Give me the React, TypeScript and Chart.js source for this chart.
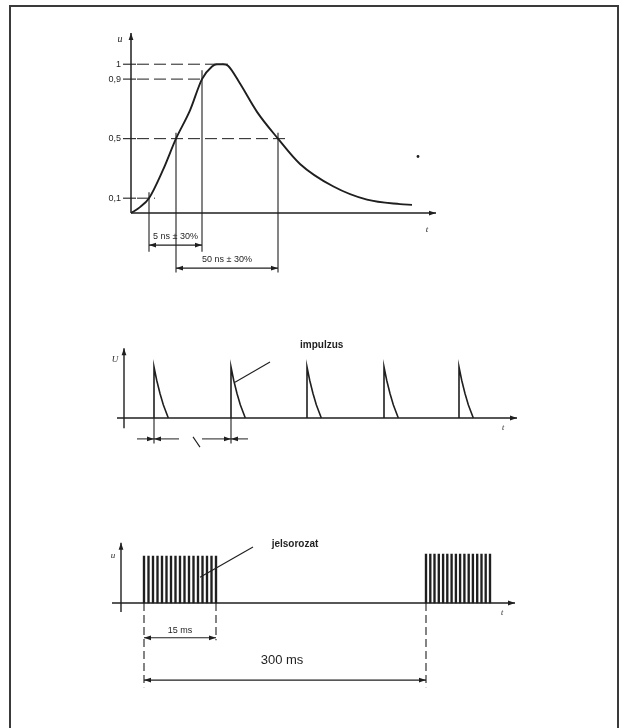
import React, { useEffect, useRef } from 'react';
import { Chart, registerables } from 'chart.js';

Chart.register(...registerables);

const INK = '#1f1f1f';

// ---------------- Panel 1: single pulse shape ----------------
const shapeT = [0, 0.9, 1.8, 3.2, 4.5, 5.9, 7.1, 8.1, 8.6, 9.2, 9.7, 10.9, 12.6, 14.7, 16.9, 20.2, 23.6, 26.9, 28.1];
const shapeU = [0, 0.04, 0.1, 0.29, 0.5, 0.69, 0.9, 0.985, 1, 1, 0.99, 0.87, 0.68, 0.5, 0.33, 0.18, 0.09, 0.06, 0.055];
const levelTicks = [0.1, 0.5, 0.9, 1];
const levelLabels = ['0,1', '0,5', '0,9', '1'];
const levelDashEnd = [2.4, 15.9, 7.1, 9.7];
const crossX = [1.8, 4.5, 7.1, 14.7];
const crossTop = [0.14, 0.54, 0.96, 0.54];
const crossBottom = [-0.26, -0.4, -0.26, -0.4];
const spanLabels = ['5 ns \u00b1 30%', '50 ns \u00b1 30%'];
const spanFrom = [1.8, 4.5];
const spanTo = [7.1, 14.7];
const spanLevel = [-0.215, -0.37];
const strayDot = [{ x: 28.7, y: 0.38 }];

// ---------------- Panel 2: impulse train ----------------
const impulseStarts = [3.0, 10.7, 18.3, 26.0, 33.5];
const impulseDx = [0, 0, 0.27, 0.6, 0.93, 1.43];
const impulseU = [0, 1, 0.74, 0.48, 0.26, 0];
const impulseLabel = 'impulzus';

// ---------------- Panel 3: bursts ----------------
const burst1X = [2.3, 2.75, 3.2, 3.65, 4.1, 4.55, 5.0, 5.45, 5.9, 6.35, 6.8, 7.25, 7.7, 8.15, 8.6, 9.05, 9.5];
const burst2X = [30.5, 30.93, 31.35, 31.78, 32.21, 32.63, 33.06, 33.49, 33.91, 34.34, 34.77, 35.19, 35.62, 36.05, 36.47, 36.9];
const burst1U = 1.0;
const burst2U = 1.04;
const burstLabel = 'jelsorozat';
const burstSpanLabels = ['15 ms', '300 ms'];

type C = CanvasRenderingContext2D;

function seg(ctx: C, x1: number, y1: number, x2: number, y2: number, w = 1.3, dash: number[] = []) {
  ctx.save();
  ctx.beginPath();
  ctx.setLineDash(dash);
  ctx.lineWidth = w;
  ctx.strokeStyle = INK;
  ctx.moveTo(x1, y1);
  ctx.lineTo(x2, y2);
  ctx.stroke();
  ctx.restore();
}

function head(ctx: C, xt: number, yt: number, xf: number, yf: number, len = 7, half = 2.4) {
  const a = Math.atan2(yt - yf, xt - xf);
  const c = Math.cos(a), s = Math.sin(a);
  ctx.save();
  ctx.fillStyle = INK;
  ctx.beginPath();
  ctx.moveTo(xt, yt);
  ctx.lineTo(xt - len * c + half * s, yt - len * s - half * c);
  ctx.lineTo(xt - len * c - half * s, yt - len * s + half * c);
  ctx.closePath();
  ctx.fill();
  ctx.restore();
}

function arrowLine(ctx: C, x1: number, y1: number, x2: number, y2: number, w = 1.3) {
  seg(ctx, x1, y1, x2, y2, w);
  head(ctx, x2, y2, x1, y1);
}

function txt(ctx: C, s: string, x: number, y: number, font: string, align: CanvasTextAlign = 'center') {
  ctx.save();
  ctx.fillStyle = INK;
  ctx.font = font;
  ctx.textAlign = align;
  ctx.textBaseline = 'middle';
  ctx.fillText(s, x, y);
  ctx.restore();
}

function baseOptions(pad: any, xr: number[], yr: number[]) {
  return {
    responsive: false,
    animation: false as const,
    events: [] as any[],
    layout: { padding: pad },
    plugins: { legend: { display: false }, tooltip: { enabled: false } },
    scales: {
      x: { type: 'linear' as const, display: false, min: xr[0], max: xr[1], offset: false },
      y: { type: 'linear' as const, display: false, min: yr[0], max: yr[1] },
    },
  };
}

const SANS = '"Liberation Sans", Arial, sans-serif';
const SERIF = '"Liberation Serif", "DejaVu Serif", serif';

function build1(cv: HTMLCanvasElement) {
  const marks = {
    id: 'marks1',
    beforeDatasetsDraw(chart: any) {
      const { ctx } = chart;
      const X = (v: number) => chart.scales.x.getPixelForValue(v);
      const Y = (v: number) => chart.scales.y.getPixelForValue(v);
      // axes
      arrowLine(ctx, X(0), Y(0), X(0), Y(1.21), 1.5);
      arrowLine(ctx, X(0), Y(0), X(30.5), Y(0), 1.5);
      txt(ctx, 'u', X(-1.1), Y(1.17), 'italic 10px ' + SERIF);
      txt(ctx, 't', X(29.6), Y(-0.11), 'italic 9px ' + SERIF);
      // level lines
      levelTicks.forEach((lv, i) => {
        seg(ctx, X(-0.8), Y(lv), X(0.5), Y(lv), 1.1);
        seg(ctx, X(0.6), Y(lv), X(levelDashEnd[i]), Y(lv), 1, [12, 5]);
        txt(ctx, levelLabels[i], X(-1.0), Y(lv), '9px ' + SANS, 'right');
      });
      // crossing verticals
      crossX.forEach((cx, i) => seg(ctx, X(cx), Y(crossTop[i]), X(cx), Y(crossBottom[i]), 1.1));
      // duration spans
      spanLabels.forEach((lab, i) => {
        const a = X(spanFrom[i]), b = X(spanTo[i]), yy = Y(spanLevel[i]);
        seg(ctx, a, yy, b, yy, 1.1);
        head(ctx, a, yy, b, yy);
        head(ctx, b, yy, a, yy);
        txt(ctx, lab, (a + b) / 2, yy - 9, '9px ' + SANS);
      });
    },
  };
  return new Chart(cv, {
    type: 'line',
    data: {
      datasets: [
        {
          data: shapeT.map((t, i) => ({ x: t, y: shapeU[i] })),
          borderColor: INK,
          borderWidth: 1.9,
          pointRadius: 0,
          cubicInterpolationMode: 'monotone',
        },
        {
          type: 'scatter',
          data: strayDot,
          pointRadius: 1.4,
          pointBackgroundColor: INK,
          pointBorderWidth: 0,
        } as any,
      ],
    },
    options: baseOptions({ left: 131, right: 191, top: 27, bottom: 12.5 }, [0, 30.5], [-0.5, 1.25]) as any,
    plugins: [marks],
  });
}

function build2(cv: HTMLCanvasElement) {
  const marks = {
    id: 'marks2',
    beforeDatasetsDraw(chart: any) {
      const { ctx } = chart;
      const X = (v: number) => chart.scales.x.getPixelForValue(v);
      const Y = (v: number) => chart.scales.y.getPixelForValue(v);
      arrowLine(ctx, X(0), Y(-0.2), X(0), Y(1.37), 1.4);
      arrowLine(ctx, X(-0.7), Y(0), X(39.3), Y(0), 1.4);
      txt(ctx, 'U', X(-0.9), Y(1.15), 'italic 9px ' + SERIF);
      txt(ctx, 't', X(37.9), Y(-0.2), 'italic 8px ' + SERIF);
      // pointer + label
      seg(ctx, X(impulseStarts[1] + 0.4), Y(0.7), X(14.6), Y(1.1), 1.1);
      txt(ctx, impulseLabel, X(17.6), Y(1.42), 'bold 10px ' + SANS, 'left');
      // period marks
      const a = impulseStarts[0], b = impulseStarts[1], yy = Y(-0.41);
      seg(ctx, X(a), Y(0), X(a), Y(-0.5), 1.1);
      seg(ctx, X(b), Y(0), X(b), Y(-0.5), 1.1);
      arrowLine(ctx, X(a - 1.7), yy, X(a), yy, 1);
      arrowLine(ctx, X(a + 2.5), yy, X(a), yy, 1);
      arrowLine(ctx, X(b - 2.9), yy, X(b), yy, 1);
      arrowLine(ctx, X(b + 1.7), yy, X(b), yy, 1);
      seg(ctx, X(6.9), Y(-0.37), X(7.6), Y(-0.57), 1.1);
    },
  };
  return new Chart(cv, {
    type: 'line',
    data: {
      datasets: impulseStarts.map((s) => ({
        data: impulseDx.map((d, i) => ({ x: s + d, y: impulseU[i] })),
        borderColor: INK,
        borderWidth: 1.6,
        pointRadius: 0,
        tension: 0,
      })),
    },
    options: baseOptions({ left: 114, right: 103, top: 46.6, bottom: 16.4 }, [-1, 40], [-0.6, 1.4]) as any,
    plugins: [marks],
  });
}

function build3(cv: HTMLCanvasElement) {
  const s1 = burst1X[0], e1 = burst1X[burst1X.length - 1], s2 = burst2X[0];
  const marks = {
    id: 'marks3',
    beforeDatasetsDraw(chart: any) {
      const { ctx } = chart;
      const X = (v: number) => chart.scales.x.getPixelForValue(v);
      const Y = (v: number) => chart.scales.y.getPixelForValue(v);
      arrowLine(ctx, X(0), Y(-0.19), X(0), Y(1.28), 1.4);
      arrowLine(ctx, X(-0.9), Y(0), X(39.4), Y(0), 1.4);
      txt(ctx, 'u', X(-0.8), Y(1.0), 'italic 9px ' + SERIF);
      txt(ctx, 't', X(38.1), Y(-0.2), 'italic 8px ' + SERIF);
      seg(ctx, X(7.9), Y(0.55), X(13.2), Y(1.19), 1.1);
      txt(ctx, burstLabel, X(17.4), Y(1.26), 'bold 10px ' + SANS);
      // dashed extension lines
      seg(ctx, X(s1), Y(0), X(s1), Y(-1.79), 1.1, [8, 4]);
      seg(ctx, X(e1), Y(0), X(e1), Y(-0.79), 1.1, [8, 4]);
      seg(ctx, X(s2), Y(0), X(s2), Y(-1.79), 1.1, [8, 4]);
      // 15 ms
      let yy = Y(-0.74);
      seg(ctx, X(s1), yy, X(e1), yy, 1.1);
      head(ctx, X(s1), yy, X(e1), yy);
      head(ctx, X(e1), yy, X(s1), yy);
      txt(ctx, burstSpanLabels[0], (X(s1) + X(e1)) / 2, yy - 7, '9px ' + SANS);
      // 300 ms
      yy = Y(-1.64);
      seg(ctx, X(s1), yy, X(s2), yy, 1.1);
      head(ctx, X(s1), yy, X(s2), yy);
      head(ctx, X(s2), yy, X(s1), yy);
      txt(ctx, burstSpanLabels[1], (X(s1) + X(s2)) / 2 - 3, yy - 20, '13px ' + SANS);
    },
  };
  return new Chart(cv, {
    type: 'bar',
    data: {
      datasets: [
        {
          data: burst1X.map((x) => ({ x, y: burst1U })),
          backgroundColor: INK,
          barThickness: 1.7,
          grouped: false,
        } as any,
        {
          data: burst2X.map((x) => ({ x, y: burst2U })),
          backgroundColor: INK,
          barThickness: 1.7,
          grouped: false,
        } as any,
      ],
    },
    options: baseOptions({ left: 111, right: 106, top: 72.2, bottom: 35.7 }, [-1, 40], [-1.9, 1.4]) as any,
    plugins: [marks],
  });
}

export default function App() {
  const r1 = useRef<HTMLCanvasElement>(null);
  const r2 = useRef<HTMLCanvasElement>(null);
  const r3 = useRef<HTMLCanvasElement>(null);
  useEffect(() => {
    const charts = [build1(r1.current!), build2(r2.current!), build3(r3.current!)];
    return () => charts.forEach((c) => c.destroy());
  }, []);
  const cs: React.CSSProperties = { position: 'absolute', left: 0, display: 'block' };
  return (
    <div style={{ position: 'absolute', left: 0, top: 0, width: 627, height: 728, background: '#fff', overflow: 'hidden' }}>
      <div style={{ position: 'absolute', left: 9, top: 5, width: 606, height: 780, border: '2px solid #3a3a3a' }} />
      <canvas ref={r1} width={627} height={300} style={{ ...cs, top: 0 }} />
      <canvas ref={r2} width={627} height={165} style={{ ...cs, top: 300 }} />
      <canvas ref={r3} width={627} height={263} style={{ ...cs, top: 465 }} />
    </div>
  );
}
